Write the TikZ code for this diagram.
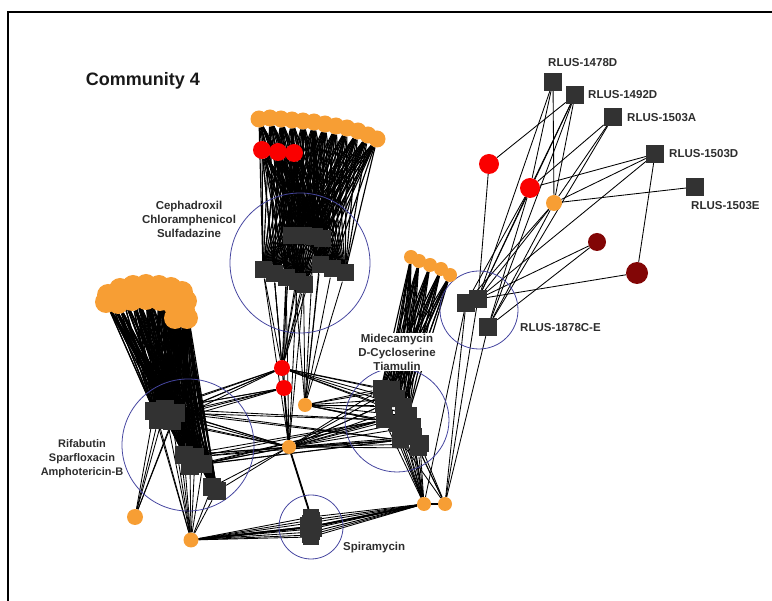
\documentclass[tikz,border=0pt]{standalone}
\usepackage{fontspec}
\setmainfont{Liberation Sans}
\pgfdeclarelayer{edges}
\pgfsetlayers{edges,main}
\definecolor{orn}{RGB}{247,158,52}
\definecolor{rd}{RGB}{250,0,0}
\definecolor{drd}{RGB}{130,6,6}
\definecolor{sqg}{RGB}{50,50,50}
\definecolor{grp}{RGB}{70,70,160}
\definecolor{labg}{RGB}{45,45,45}
\tikzset{
  sq/.style={rectangle, fill=sqg, minimum size=17pt, inner sep=0pt},
  bsq/.style={rectangle, fill=sqg, minimum size=18pt, inner sep=0pt},
  oc/.style={circle, fill=orn, minimum size=16pt, inner sep=0pt},
  boc/.style={circle, fill=orn, minimum size=22pt, inner sep=0pt},
  rc/.style={circle, fill=rd, minimum size=18pt, inner sep=0pt},
  dc/.style={circle, fill=drd, minimum size=18pt, inner sep=0pt},
  grpc/.style={circle, draw=grp, line width=0.8pt, inner sep=0pt},
  lab/.style={font=\bfseries\fontsize{11.5}{14}\selectfont, text=labg, align=center, inner sep=1pt},
  edge/.style={line width=0.85pt, black},
  dense/.style={line width=1.15pt, black},
  frame/.style={line width=1.3pt, black}
}
\begin{document}
\begin{tikzpicture}[x=1pt,y=-1pt]
\useasboundingbox (0,0) rectangle (772,601);
\draw[frame] (8,601) -- (8,12) -- (772,12);

\node[font=\bfseries\fontsize{18}{20}\selectfont, text=black!90] (title) at (143,81) {Community 4};

% ---- group circles
\node[grpc, minimum size=140pt] (g1) at (300,263) {};
\node[grpc, minimum size=132pt] (g2) at (188,445) {};
\node[grpc, minimum size=104pt] (g3) at (397,420) {};
\node[grpc, minimum size=64pt] (g4) at (311,527) {};
\node[grpc, minimum size=78pt] (g5) at (479,310) {};

% ---- top cluster
\foreach \n/\x/\y in {T1/259/119,T2/270/118,T3/281/119,T4/292/120,T5/303/121,T6/314/122,T7/325/124,T8/336/126,T9/347/128,T10/358/131,T11/368/135,T12/377/139}
  \node[oc, minimum size=17pt] (\n) at (\x,\y) {};
\foreach \n/\x/\y in {R1/262/150,R2/278/152,R3/294/153}
  \node[rc] (\n) at (\x,\y) {};
\foreach \n/\x/\y in {A1/291/236,A2/303/236,A3/314/237,A4/322/239,A5/263/270,A6/274/274,A7/286/278,A8/297/282,A9/304/285,A10/320/265,A11/332/269,A12/345/273}
  \node[sq] (\n) at (\x,\y) {};

% ---- center small nodes
\node[rc, minimum size=16pt] (LR1) at (282,368) {};
\node[rc, minimum size=16pt] (LR2) at (284,388) {};
\node[oc, minimum size=14pt] (LO1) at (305,405) {};
\node[oc, minimum size=14pt] (LO2) at (289,447) {};

% ---- left cluster
\foreach \n/\x/\y in {B1/108/295,B2/120/289,B3/133/286,B4/146/285,B5/159/286,B6/171/288,B7/182/292,B8/186/301,B9/118/303,B10/132/300,B11/146/299,B12/160/300,B13/174/305,B14/184/310,B15/175/318,B16/187/318,B17/106/302}
  \node[boc] (\n) at (\x,\y) {};
\foreach \n/\x/\y in {C1/154/411,C2/165/409,C3/176/413,C4/158/420,C5/172/421,C6/184/455,C7/195/457,C8/203/464,C9/190/466,C10/212/487,C11/217/491}
  \node[sq, minimum size=18pt] (\n) at (\x,\y) {};
\node[oc, minimum size=16pt] (BO1) at (135,517) {};
\node[oc, minimum size=15pt] (BO2) at (191,540) {};

% ---- middle cluster
\foreach \n/\x/\y in {D1/411/257,D2/419/261,D3/430/265,D4/441/269,D5/450/275}
  \node[oc, minimum size=14pt] (\n) at (\x,\y) {};
\foreach \n/\x/\y in {E1/381/389,E2/391/390,E3/396/399,E4/403/407,E5/408/416,E6/383/405,E7/384/420,E8/397/424,E9/412/427,E10/413/437,E11/420/444,E12/400/440,E13/418/448}
  \node[sq] (\n) at (\x,\y) {};
\node[oc, minimum size=14pt] (MO1) at (424,504) {};
\node[oc, minimum size=14pt] (MO2) at (445,504) {};

% ---- spiramycin
\node[rectangle, fill=sqg, minimum width=22pt, minimum height=20pt, inner sep=0pt] (S0) at (311,527) {};
\foreach \n/\x/\y in {S1/311/517,S2/312/520,S3/310/523,S4/313/526,S5/311/529,S6/312/532,S7/310/535,S8/311/537}
  \node[sq, minimum size=16pt] (\n) at (\x,\y) {};

% ---- right cluster
\foreach \n/\x/\y in {F1/466/303,F2/478/299,F3/488/327,K1/553/82,K2/575/95,K3/613/117,K4/655/154,K5/695/187}
  \node[bsq] (\n) at (\x,\y) {};
\node[rc, minimum size=20pt] (RR1) at (489,164) {};
\node[rc, minimum size=20pt] (RR2) at (530,188) {};
\node[oc, minimum size=16pt] (RO) at (554,203) {};
\node[dc, minimum size=18pt] (DR1) at (597,242) {};
\node[dc, minimum size=22pt] (DR2) at (637,273) {};

% ---- labels
\node[lab] (labA) at (189,219) {Cephadroxil\\Chloramphenicol\\Sulfadazine};
\node[lab, font=\bfseries\fontsize{11}{14}\selectfont] (labC) at (82,459) {Rifabutin\\Sparfloxacin\\Amphotericin-B};
\node[lab, fill=white] (labE) at (397,352) {Midecamycin\\D-Cycloserine\\Tiamulin};
\node[lab, anchor=west] (labS) at (342,548) {Spiramycin};
\node[lab, anchor=west] (labF) at (519,328) {RLUS-1878C-E};
\node[lab, anchor=west] (labK1) at (547,63) {RLUS-1478D};
\node[lab, anchor=west] (labK2) at (587,95) {RLUS-1492D};
\node[lab, anchor=west] (labK3) at (626,118) {RLUS-1503A};
\node[lab, anchor=west] (labK4) at (668,154) {RLUS-1503D};
\node[lab, anchor=west] (labK5) at (690,206) {RLUS-1503E};

% ---- edges
\begin{pgfonlayer}{edges}
\foreach \a in {T1,T2,T3,T4,T5,T6,T7,T8,T9,T10,T11,T12,R1,R2,R3}
  \foreach \b in {A1,A2,A3,A4,A5,A6,A7,A8,A9,A10,A11,A12}
    \draw[dense] (\a) -- (\b);
\foreach \b in {A1,A2,A3,A4,A5,A6,A7,A8,A9} \draw[edge] (\b) -- (LR1);
\foreach \b in {A1,A2,A3,A4,A10,A11,A12} \draw[edge] (\b) -- (LO1);
\foreach \b in {A5,A6,A7,A8,A9} \draw[edge] (\b) -- (LO2);
\foreach \b in {A6,A7} \draw[edge] (\b) -- (LR2);
\foreach \a in {B1,B2,B3,B4,B5,B6,B7,B8,B9,B10,B11,B12,B13,B14,B15,B16,B17}
  \foreach \b in {C1,C2,C3,C4,C5,C6,C7,C8,C9,C10,C11}
    \draw[dense] (\a) -- (\b);
\foreach \b in {C1,C2,C3,C4,C5} \draw[edge] (\b) -- (BO1);
\foreach \b in {C1,C2,C3,C4,C5,C6,C7,C8,C9,C10,C11} \draw[edge] (\b) -- (BO2);
\foreach \b in {C1,C2,C3,C4,C5} {\draw[edge] (\b) -- (LR1); \draw[edge] (\b) -- (LR2); \draw[edge] (\b) -- (LO2);}
\foreach \b in {C6,C7,C8,C9,C10,C11} \draw[edge] (\b) -- (LO2);
\foreach \b in {C2,C3,C6,C7,C8,C9} {\draw[edge] (\b) -- (E7); \draw[edge] (\b) -- (E12);}
\foreach \a in {D1,D2,D3,D4,D5}
  \foreach \b in {E1,E2,E3,E4,E5,E6,E7,E8}
    \draw[dense] (\a) -- (\b);
\foreach \b in {E1,E2,E3,E4,E5,E6} \draw[edge] (LR1) -- (\b);
\foreach \b in {E1,E2,E3,E4,E5,E6,E7,E8,E9} \draw[edge] (LO1) -- (\b);
\foreach \b in {E1,E2,E3,E4,E5,E6,E7,E8,E9,E10,E11,E12,E13} \draw[edge] (LO2) -- (\b);
\foreach \b in {E1,E2,E3,E4,E5,E6,E7,E8,E9,E10,E11,E12,E13} \draw[edge] (MO1) -- (\b);
\foreach \b in {E10,E11,E12,E13} \draw[edge] (MO2) -- (\b);
\draw[edge, line width=1.8pt] (LR2) -- (LO2);
\draw[edge, line width=1.8pt] (LO2) -- (S1);
\draw[edge] (LO2) -- (S2);
\foreach \b in {S1,S2,S3,S4,S5,S6,S7,S8} {\draw[edge] (BO2) -- (\b); \draw[edge] (MO1) -- (\b);}
\draw[edge, line width=2pt] (BO2) -- (S0);
\draw[edge, line width=2pt] (MO1) -- (S0);
\draw[edge, line width=1.8pt] (MO1) -- (MO2);
% right cluster
\foreach \a/\b in {K1/RR2,K1/RO,K1/F2,K2/RR1,K2/RR2,K2/RO,K2/F2,K2/F3,K3/RR2,K3/RO,K3/F3,K4/RR2,K4/RO,K4/DR2,K4/F2,K5/RO,RR1/F2,RR2/F1,RR2/F2,RR2/F3,RO/F1,RO/F2,RO/F3,DR1/F2,DR1/F3,DR2/F2,F1/MO2,F2/MO2,F3/MO2,F1/MO1}
  \draw[edge] (\a) -- (\b);
\end{pgfonlayer}
\end{tikzpicture}
\end{document}
